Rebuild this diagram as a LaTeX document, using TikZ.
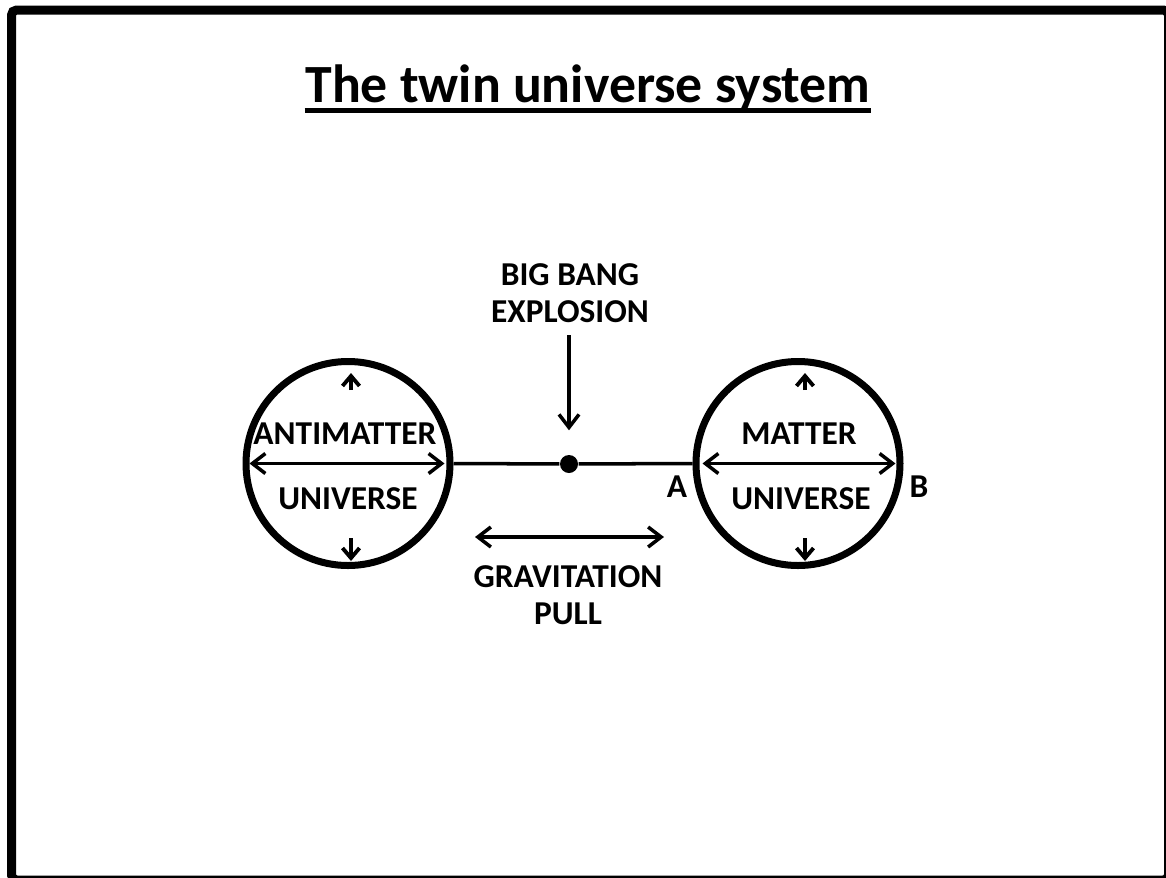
\documentclass[tikz,border=0pt]{standalone}
\usepackage{fontspec}
\setmainfont{Carlito}
\usepackage{tikz}
\usetikzlibrary{arrows.meta,positioning}

\begin{document}
\begin{tikzpicture}[x=1cm,y=1cm,
  lbl/.style={font=\fontsize{9.5}{10.5}\selectfont\bfseries,align=center},
  ring/.style={draw,circle,line width=0.07cm,minimum size=2.04cm,inner sep=0pt},
  dbl/.style={line width=1pt,{Straight Barb[length=0.13cm,width=0.2cm]}-{Straight Barb[length=0.13cm,width=0.2cm]}},
  arr/.style={line width=1pt,-{Straight Barb[length=0.13cm,width=0.2cm]}},
  tinyarr/.style={line width=1.1pt,-{Straight Barb[length=0.1cm,width=0.17cm]}}]
\useasboundingbox (0,0) rectangle (11.66,-8.77);
\clip (0,0) rectangle (11.66,-8.77);
\draw[line width=0.09cm,rounded corners=0.05cm] (0.115,-0.10) rectangle (11.685,-8.80);
\node[anchor=base,inner sep=0pt,font=\fontsize{15.3}{19}\selectfont\bfseries] (title) at (5.88,-1.02) {The twin universe system};
\draw[line width=0.05cm] ([yshift=-0.08cm]title.base west) -- ([yshift=-0.08cm]title.base east);
\node[ring] (anti) at (3.48,-4.635) {};
\node[ring] (mat) at (7.98,-4.635) {};
\node[circle,fill,minimum size=0.18cm,inner sep=0pt] (bang) at (5.69,-4.64) {};
\draw[line width=1pt] (anti.east) -- (bang) -- (mat.west);
\draw[dbl] ([xshift=0.07cm]anti.west) -- ([xshift=-0.09cm]anti.east);
\draw[dbl] ([xshift=0.1cm]mat.west) -- ([xshift=-0.08cm]mat.east);
\foreach \c/\dx in {anti/0.03,mat/0.07}{
  \draw[tinyarr] ([shift={(\dx,0.735)}]\c.center) -- ([shift={(\dx,0.905)}]\c.center);
  \draw[tinyarr] ([shift={(\dx,-0.745)}]\c.center) -- ([shift={(\dx,-0.975)}]\c.center);
}
\node[lbl] (antitop) at (3.45,-4.34) {ANTIMATTER};
\node[lbl] (antibot) at (3.48,-4.99) {UNIVERSE};
\node[lbl] (mattop) at (7.99,-4.34) {MATTER};
\node[lbl] (matbot) at (8.01,-4.99) {UNIVERSE};
\node[lbl] (ptA) at (6.77,-4.87) {A};
\node[lbl] (ptB) at (9.19,-4.87) {B};
\node[lbl] (bigbang) at (5.70,-2.935) {BIG BANG\\EXPLOSION};
\draw[arr] (bigbang.south -| bang) -- ([yshift=0.24cm]bang.north);
\node[lbl] (grav) at (5.68,-5.95) {GRAVITATION\\PULL};
\coordinate (gl) at (4.75,-5.37);
\coordinate (gr) at (6.64,-5.37);
\draw[dbl] (gl) -- (gr);
\end{tikzpicture}
\end{document}
